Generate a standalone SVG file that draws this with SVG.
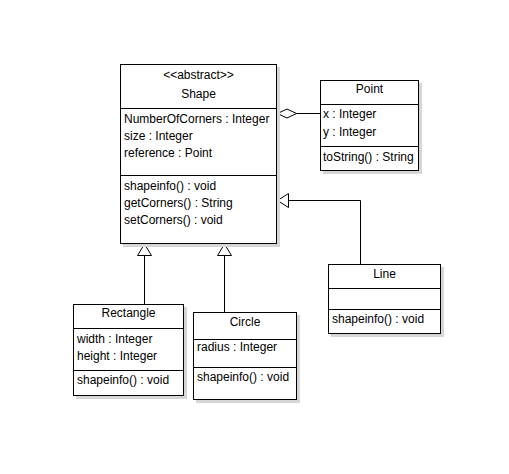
<svg xmlns="http://www.w3.org/2000/svg" width="509" height="474" viewBox="0 0 509 474">
<defs>
<style>
.box{fill:#fff;stroke:#000;stroke-width:1}
.sh{fill:#d6d6d6}
.div{stroke:#000;stroke-width:1}
text{font-family:"Liberation Sans",Arial,sans-serif;font-size:12px;fill:#000}
.c{text-anchor:middle}
.conn{stroke:#000;stroke-width:1;fill:none}
.tri{fill:#fff;stroke:#000;stroke-width:1}
</style>
</defs>
<rect width="509" height="474" fill="#fff"/>
<g id="connectors">
<line class="conn" x1="296" y1="113.5" x2="320" y2="113.5"/>
<polygon class="tri" points="277.5,113.5 287,109 296.5,113.5 287,118"/>
<line class="conn" x1="144.5" y1="304" x2="144.5" y2="255"/>
<polygon class="tri" points="144.5,244 137.5,255.5 151.5,255.5"/>
<line class="conn" x1="224.5" y1="312" x2="224.5" y2="255"/>
<polygon class="tri" points="224.5,244 217.5,255.5 231.5,255.5"/>
<polyline class="conn" points="360.5,264 360.5,200.5 288,200.5"/>
<polygon class="tri" points="277.5,200.5 288.5,193.5 288.5,207.5"/>
</g>
<g id="Shape">
<rect class="sh" x="123" y="67" width="157" height="180"/>
<rect class="box" x="120.5" y="64.5" width="156" height="179"/>
<line class="div" x1="120.5" y1="108.5" x2="276.5" y2="108.5"/>
<line class="div" x1="120.5" y1="175.5" x2="276.5" y2="175.5"/>
<text class="c" x="198.5" y="79">&lt;&lt;abstract&gt;&gt;</text>
<text class="c" x="198.5" y="98">Shape</text>
<text x="124" y="123">NumberOfCorners : Integer</text>
<text x="124" y="140">size : Integer</text>
<text x="124" y="157">reference : Point</text>
<text x="124" y="190">shapeinfo() : void</text>
<text x="124" y="207">getCorners() : String</text>
<text x="124" y="224">setCorners() : void</text>
</g>
<g id="Point">
<rect class="sh" x="323" y="83" width="99" height="91"/>
<rect class="box" x="320.5" y="80.5" width="98" height="90"/>
<line class="div" x1="320.5" y1="104.5" x2="418.5" y2="104.5"/>
<line class="div" x1="320.5" y1="146.5" x2="418.5" y2="146.5"/>
<text class="c" x="369.5" y="93">Point</text>
<text x="323" y="118">x : Integer</text>
<text x="323" y="136">y : Integer</text>
<text x="323" y="161">toString() : String</text>
</g>
<g id="Rectangle">
<rect class="sh" x="76" y="307" width="111" height="92"/>
<rect class="box" x="73.5" y="304.5" width="110" height="91"/>
<line class="div" x1="73.5" y1="328.5" x2="183.5" y2="328.5"/>
<line class="div" x1="73.5" y1="370.5" x2="183.5" y2="370.5"/>
<text class="c" x="128.5" y="317">Rectangle</text>
<text x="77" y="343">width : Integer</text>
<text x="77" y="360">height : Integer</text>
<text x="77" y="384">shapeinfo() : void</text>
</g>
<g id="Circle">
<rect class="sh" x="196" y="315" width="104" height="88"/>
<rect class="box" x="193.5" y="312.5" width="103" height="87"/>
<line class="div" x1="193.5" y1="339.5" x2="296.5" y2="339.5"/>
<line class="div" x1="193.5" y1="367.5" x2="296.5" y2="367.5"/>
<text class="c" x="245" y="326">Circle</text>
<text x="197" y="351">radius : Integer</text>
<text x="197" y="381">shapeinfo() : void</text>
</g>
<g id="Line">
<rect class="sh" x="331" y="267" width="113" height="70"/>
<rect class="box" x="328.5" y="264.5" width="112" height="69"/>
<line class="div" x1="328.5" y1="288.5" x2="440.5" y2="288.5"/>
<line class="div" x1="328.5" y1="309.5" x2="440.5" y2="309.5"/>
<text class="c" x="384.5" y="278">Line</text>
<text x="332" y="323">shapeinfo() : void</text>
</g>
</svg>
